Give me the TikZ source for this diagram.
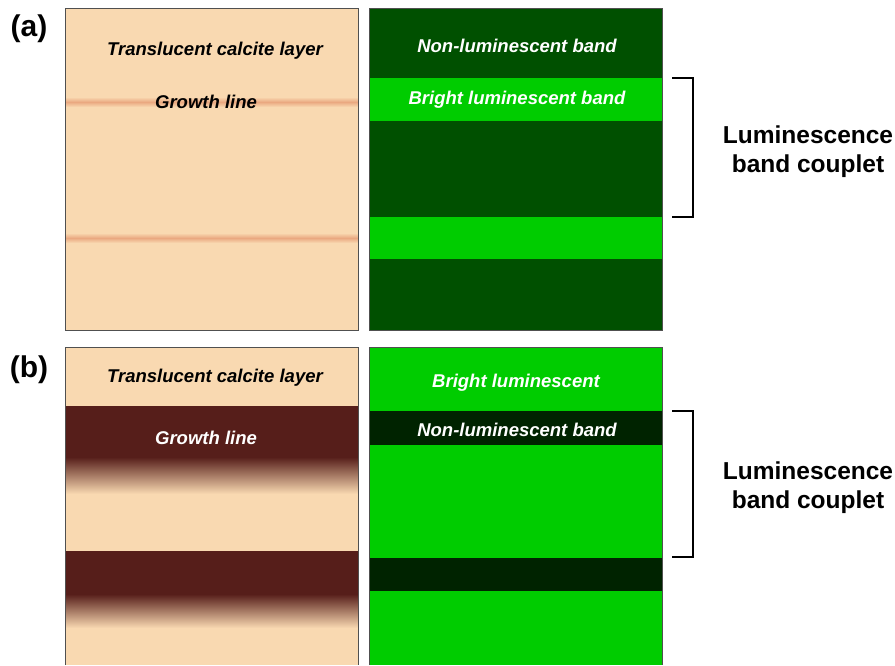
\documentclass[tikz,border=0pt]{standalone}
\usepackage{fontspec}
\setmainfont{Liberation Sans}
\definecolor{beige}{RGB}{249,217,177}
\definecolor{lineC}{RGB}{234,168,128}
\definecolor{dkgreen}{RGB}{0,80,0}
\definecolor{brgreen}{RGB}{0,204,0}
\definecolor{nlgreen}{RGB}{0,35,0}
\definecolor{brownC}{RGB}{86,30,26}
\definecolor{frameC}{RGB}{80,80,80}
\tikzset{
  lbl/.style={font=\fontsize{18.5}{18.5}\selectfont\bfseries\itshape, anchor=center, inner sep=0pt, yshift=-2pt},
  side/.style={font=\fontsize{24.5}{29}\selectfont\bfseries, align=center, inner sep=0pt},
  tag/.style={font=\fontsize{30}{30}\selectfont\bfseries, inner sep=0pt},
  frame/.style={draw=frameC, line width=0.9pt},
  brk/.style={draw=black, line width=1.6pt}
}
\begin{document}
\begin{tikzpicture}[x=1pt,y=-1pt]
\useasboundingbox (0,0) rectangle (895,665);
% ---------- (a) left panel ----------
\fill[beige] (65,8) rectangle (358,330);
\shade[top color=beige, bottom color=beige, middle color=lineC] (65,97) rectangle (358,107);
\shade[top color=beige, bottom color=beige, middle color=lineC] (65,233) rectangle (358,243);
\draw[frame] (65,8) rectangle (358,330);
\node[lbl] (a1) at (215,49) {Translucent calcite layer};
\node[lbl] (a2) at (206,100) {Growth line};
% ---------- (a) right panel ----------
\fill[dkgreen] (369,8) rectangle (662,330);
\fill[brgreen] (369,78) rectangle (662,121);
\fill[brgreen] (369,217) rectangle (662,259);
\draw[frame] (369,8) rectangle (662,330);
\node[lbl, text=white] (a3) at (517,44) {Non-luminescent band};
\node[lbl, text=white] (a4) at (517,98) {Bright luminescent band};
% bracket (a)
\coordinate (ba1) at (672,78);
\coordinate (ba2) at (693,78);
\coordinate (ba3) at (693,217);
\coordinate (ba4) at (672,217);
\draw[brk] (ba1) -- (ba2) -- (ba3) -- (ba4);
\node[side] (sa) at (808,152) {Luminescence\\band couplet};
\node[tag] (ta) at (29,29) {(a)};
% ---------- (b) left panel ----------
\fill[beige] (65,347) rectangle (358,665);
\fill[brownC] (65,406) rectangle (358,457);
\shade[top color=brownC, bottom color=beige] (65,457) rectangle (358,494);
\fill[brownC] (65,551) rectangle (358,594);
\shade[top color=brownC, bottom color=beige] (65,594) rectangle (358,628);
\draw[frame] (65,665) -- (65,347) -- (358,347) -- (358,665);
\node[lbl] (b1) at (215,376) {Translucent calcite layer};
\node[lbl, text=white] (b2) at (206,436) {Growth line};
% ---------- (b) right panel ----------
\fill[brgreen] (369,347) rectangle (662,665);
\fill[nlgreen] (369,411) rectangle (662,445);
\fill[nlgreen] (369,558) rectangle (662,591);
\draw[frame] (369,665) -- (369,347) -- (662,347) -- (662,665);
\node[lbl, text=white] (b3) at (516,381) {Bright luminescent};
\node[lbl, text=white] (b4) at (517,428) {Non-luminescent band};
% bracket (b)
\coordinate (bb1) at (672,411);
\coordinate (bb2) at (693,411);
\coordinate (bb3) at (693,557);
\coordinate (bb4) at (672,557);
\draw[brk] (bb1) -- (bb2) -- (bb3) -- (bb4);
\node[side] (sb) at (808,488) {Luminescence\\band couplet};
\node[tag] (tb) at (29,370) {(b)};
\end{tikzpicture}
\end{document}
